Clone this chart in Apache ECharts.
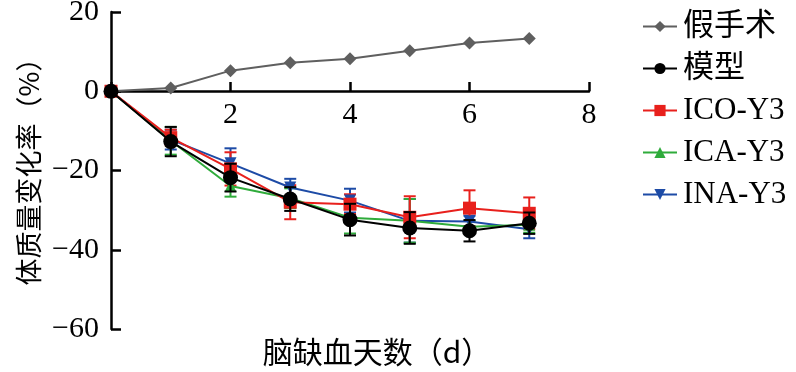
<!DOCTYPE html>
<html><head><meta charset="utf-8">
<script src="https://cdn.jsdelivr.net/npm/echarts@6/dist/echarts.min.js"></script>
<style>html,body{margin:0;padding:0;background:#fff}#c{width:796px;height:372px}</style>
</head><body><div id="c"></div>
<script>
const days = [0, 1, 2, 3, 4, 5, 6, 7];
const xTicks = [2, 4, 6, 8];
const yTicks = [20, 0, -20, -40, -60];
const names = ['假手术', '模型', 'ICO-Y3', 'ICA-Y3', 'INA-Y3'];
const sham = [0, 0.8, 5.2, 7.2, 8.2, 10.2, 12.2, 13.3];
const model = [0, -12.7, -21.8, -27.2, -32.4, -34.5, -35.2, -33.3];
const modelSD = [0, 3.7, 3.5, 3.0, 4.0, 4.0, 2.7, 2.7];
const ico = [0, -11.7, -19.6, -28.0, -28.5, -31.8, -29.5, -30.8];
const icoSD = [0, 2.0, 4.2, 4.3, 2.5, 5.3, 4.5, 4.0];
const ica = [0, -12.5, -23.9, -27.0, -31.9, -32.7, -34.2, -33.7];
const icaSD = [0, 3.5, 2.7, 2.5, 4.0, 5.5, 1.5, 2.0];
const ina = [0, -12.2, -18.2, -24.3, -27.6, -32.7, -32.9, -34.8];
const inaSD = [0, 2.5, 3.8, 2.2, 3.0, 5.5, 1.5, 2.3];

const FONT = "'Liberation Serif', 'Noto Sans CJK SC', serif";
const colors = ['#5f5f5f', '#000000', '#e8201c', '#2fab3b', '#1d4ba6'];

function pts(v) { return days.map((d, i) => [d, v[i]]); }
function errData(v, sd) { return days.map((d, i) => [d, v[i] - sd[i], v[i] + sd[i]]); }

function errSeries(v, sd, color, z) {
  return {
    type: 'custom', silent: true, z: z, legendHoverLink: false,
    data: errData(v, sd),
    renderItem: function (params, api) {
      const x = api.value(0);
      const lo = api.coord([x, api.value(1)]);
      const hi = api.coord([x, api.value(2)]);
      const w = 6;
      const st = { stroke: color, lineWidth: 2 };
      return { type: 'group', children: [
        { type: 'line', shape: { x1: lo[0], y1: lo[1], x2: hi[0], y2: hi[1] }, style: st },
        { type: 'line', shape: { x1: lo[0] - w, y1: lo[1], x2: lo[0] + w, y2: lo[1] }, style: st },
        { type: 'line', shape: { x1: hi[0] - w, y1: hi[1], x2: hi[0] + w, y2: hi[1] }, style: st }
      ]};
    }
  };
}

function lineSeries(name, v, color, symbol, size, z) {
  return {
    name: name, type: 'line', data: pts(v), z: z,
    symbol: symbol, symbolSize: size,
    lineStyle: { color: color, width: 2 },
    itemStyle: { color: color },
    emphasis: { disabled: true }
  };
}

const chart = echarts.init(document.getElementById('c'), null, { renderer: 'canvas' });
chart.setOption({
  animation: false,
  backgroundColor: '#ffffff',
  grid: { left: 111, right: 207, top: 12, bottom: 43, containLabel: false, outerBoundsMode: 'none' },
  xAxis: {
    type: 'value', min: 0, max: 8, interval: 2,
    offset: -238,
    axisLine: { onZero: false, lineStyle: { color: '#000', width: 2.5 } },
    axisTick: { inside: true, length: 9, lineStyle: { color: '#000', width: 2.5 } },
    axisLabel: { fontFamily: FONT, fontSize: 30, color: '#000', margin: 9,
      formatter: v => xTicks.indexOf(v) >= 0 ? String(v) : '' },
    splitLine: { show: false }
  },
  yAxis: {
    type: 'value', min: -60, max: 20, interval: 20,
    axisLine: { onZero: false, lineStyle: { color: '#000', width: 2.5 } },
    axisTick: { inside: true, length: 10, lineStyle: { color: '#000', width: 2.5 } },
    axisLabel: { fontFamily: FONT, fontSize: 30, color: '#000', margin: 12,
      formatter: v => yTicks.indexOf(v) >= 0 ? String(v).replace('-', '\u2212') : '' },
    splitLine: { show: false }
  },
  legend: {
    orient: 'vertical', left: 637, top: 6, itemWidth: 34, itemHeight: 14, itemGap: 11,
    data: names,
    textStyle: { fontFamily: FONT, fontSize: 31, color: '#000', padding: [0, 0, 0, 1] }
  },
  graphic: [
    { type: 'text', x: 377, y: 352, style: { text: '脑缺血天数（d）', font: "30px 'Noto Sans CJK SC', 'Liberation Serif'", fill: '#000', textAlign: 'center', textVerticalAlign: 'middle' } },
    { type: 'text', x: 29, y: 165, rotation: Math.PI / 2, style: { text: '体质量变化率（%）', font: "27px 'Noto Sans CJK SC', 'Liberation Serif'", fill: '#000', textAlign: 'center', textVerticalAlign: 'middle' } }
  ],
  series: [
    errSeries(ina, inaSD, colors[4], 2),
    errSeries(ica, icaSD, colors[3], 2),
    errSeries(ico, icoSD, colors[2], 2),
    errSeries(model, modelSD, colors[1], 6),
    lineSeries(names[4], ina, colors[4], 'path://M0,0 L10,0 L5,9 Z', 12, 3),
    lineSeries(names[3], ica, colors[3], 'triangle', 12, 3),
    lineSeries(names[2], ico, colors[2], 'rect', 13, 4),
    lineSeries(names[1], model, colors[1], 'circle', 15, 7),
    lineSeries(names[0], sham, colors[0], 'diamond', 13, 5)
  ]
});
</script></body></html>
